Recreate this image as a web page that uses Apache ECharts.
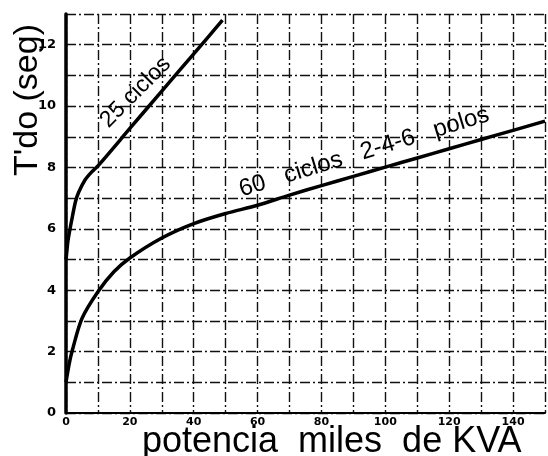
<!DOCTYPE html>
<html>
<head>
<meta charset="utf-8">
<script src="https://cdn.jsdelivr.net/npm/echarts@6/dist/echarts.min.js"></script>
<style>html,body{margin:0;padding:0;background:#fff}#c{width:548px;height:456px}</style>
</head>
<body>
<div id="c"></div>
<script>
// Data
var x25 = [0, 0.3, 0.6, 1, 2, 3, 4, 6, 8, 10, 20, 30, 40, 49];
var y25 = [5.0, 5.3, 5.6, 5.85, 6.4, 6.9, 7.2, 7.6, 7.85, 8.05, 9.27, 10.49, 11.7, 12.8];
var x60 = [0, 1, 2, 5, 10, 15, 20, 30, 40, 50, 60, 70, 80, 90, 100, 110, 120, 130, 140, 150];
var y60 = [1.0, 1.6, 2.05, 3.08, 3.95, 4.6, 5.05, 5.7, 6.17, 6.5, 6.77, 7.1, 7.41, 7.71, 8.01, 8.31, 8.61, 8.91, 9.21, 9.51];
var xTickLabels = [0, 20, 40, 60, 80, 100, 120, 140];
var yTickLabels = [0, 2, 4, 6, 8, 10, 12];
var label25 = '25 ciclos';
var label60 = '60   ciclos   2-4-6   polos';
var xTitle = 'potencia  miles  de KVA';
var yTitle = "T'do (seg)";

function pairs(xs, ys) { return xs.map(function (v, i) { return [v, ys[i]]; }); }

var chart = echarts.init(document.getElementById('c'), null, { renderer: 'canvas' });
var gridLine = { show: true, lineStyle: { color: '#111', width: 1.4, type: [10, 3, 2, 3] } };
chart.setOption({
  animation: false,
  backgroundColor: '#fff',
  grid: { left: 66, top: 14, right: 0, bottom: 43, containLabel: false },
  xAxis: {
    type: 'value', min: 0, max: 150, interval: 10,
    axisLine: { show: true, lineStyle: { color: '#000', width: 2 } },
    axisTick: { show: false },
    splitLine: gridLine,
    axisLabel: {
      margin: 4, color: '#000', fontSize: 11, fontFamily: 'DejaVu Sans', fontWeight: 'bold',
      formatter: function (v) { return xTickLabels.indexOf(v) >= 0 ? String(v) : ''; }
    }
  },
  yAxis: {
    type: 'value', min: 0, max: 13, interval: 1,
    axisLine: { show: true, onZero: false, lineStyle: { color: '#000', width: 3.5 } },
    axisTick: { show: false },
    splitLine: gridLine,
    axisLabel: {
      margin: 10, color: '#000', fontSize: 13, fontFamily: 'DejaVu Sans', fontWeight: 'bold',
      formatter: function (v) { return yTickLabels.indexOf(v) >= 0 ? String(v) : ''; }
    }
  },
  series: [
    { type: 'line', smooth: 0.3, symbol: 'none', data: pairs(x25, y25),
      lineStyle: { color: '#000', width: 3.5 } },
    { type: 'line', smooth: 0.3, symbol: 'none', data: pairs(x60, y60),
      lineStyle: { color: '#000', width: 3.5 } }
  ]
});

var p25 = chart.convertToPixel({ gridIndex: 0 }, [21.8, 10.45]);
var p60 = chart.convertToPixel({ gridIndex: 0 }, [93.4, 8.5]);
var font = 'Liberation Sans, Arial, sans-serif';
chart.setOption({
  graphic: [
    { type: 'text', x: p25[0], y: p25[1], rotation: 45 * Math.PI / 180,
      style: { text: label25, fill: '#000', font: '23px ' + font, align: 'center', verticalAlign: 'middle' } },
    { type: 'text', x: p60[0], y: p60[1], rotation: 17 * Math.PI / 180,
      style: { text: label60, fill: '#000', font: '24px ' + font, align: 'center', verticalAlign: 'middle' } },
    { type: 'text', x: 142, y: 460,
      style: { text: xTitle, fill: '#000', font: '36px ' + font, align: 'left', verticalAlign: 'bottom' } },
    { type: 'text', x: 45, y: 100, rotation: Math.PI / 2,
      style: { text: yTitle, fill: '#000', font: '34px ' + font, align: 'center', verticalAlign: 'bottom' } }
  ]
});
</script>
</body>
</html>
